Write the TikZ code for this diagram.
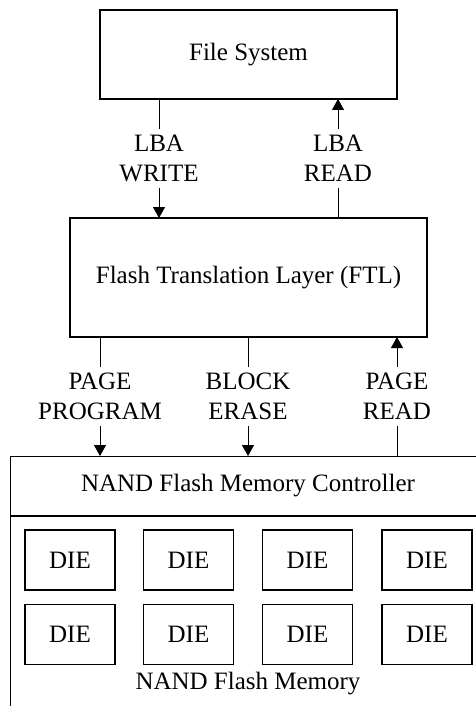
\documentclass[tikz,border=0pt]{standalone}
\usepackage{fontspec}
\setmainfont{Liberation Serif}
\usetikzlibrary{arrows.meta}
\begin{document}
\begin{tikzpicture}[x=1pt,y=-1pt,
  every node/.style={font=\fontsize{25}{30}\selectfont},
  boxthin/.style={draw,line width=1.4pt,inner sep=0pt},
  diebox/.style={draw,line width=1.2pt,minimum width=90pt,minimum height=60pt,inner sep=0pt},
  conn/.style={line width=1pt},
  arr/.style={conn,-{Triangle[length=11pt,width=12pt]}},
  lbl/.style={fill=white,align=center,inner xsep=2pt,inner ysep=6pt}]
\useasboundingbox (0,0) rectangle (476,706);
\clip (0,0) rectangle (476,706);
% File System
\node[boxthin,minimum width=297pt,minimum height=89pt] (fs) at (248.5,54.5) {File System};
% FTL
\node[draw,line width=2.5pt,minimum width=357pt,minimum height=119pt,inner sep=0pt] (ftl) at (248.5,277.5) {Flash Translation Layer (FTL)};
% NAND outer box
\node[boxthin,minimum width=476pt,minimum height=270pt,anchor=north west] (nand) at (10,456) {};
\coordinate (divL) at (10,516);
\coordinate (divR) at (486,516);
\draw[line width=1.4pt] (divL) -- (divR);
\node (ctrl) at (248,486) {NAND Flash Memory Controller};
\node (mem) at (248,684) {NAND Flash Memory};
% DIEs
\foreach \i/\x in {1/70,2/188.5,3/307.5,4/427}{
  \node[diebox] (dA\i) at (\x,560) {DIE};
  \node[diebox] (dB\i) at (\x,634.5) {DIE};
}
% coordinates for connectors
\coordinate (w1) at (159,99);  \coordinate (w2) at (159,218);
\coordinate (r1) at (338,218); \coordinate (r2) at (338,99);
\coordinate (p1) at (100,337); \coordinate (p2) at (100,456);
\coordinate (b1) at (248,337); \coordinate (b2) at (248,456);
\coordinate (q1) at (397,456); \coordinate (q2) at (397,337);
\draw[arr] (w1) -- (w2) node[midway,lbl] {LBA\\WRITE};
\draw[arr] (r1) -- (r2) node[midway,lbl] {LBA\\READ};
\draw[arr] (p1) -- (p2) node[midway,lbl] {PAGE\\PROGRAM};
\draw[arr] (b1) -- (b2) node[midway,lbl] {BLOCK\\ERASE};
\draw[arr] (q1) -- (q2) node[midway,lbl] {PAGE\\READ};
\end{tikzpicture}
\end{document}
